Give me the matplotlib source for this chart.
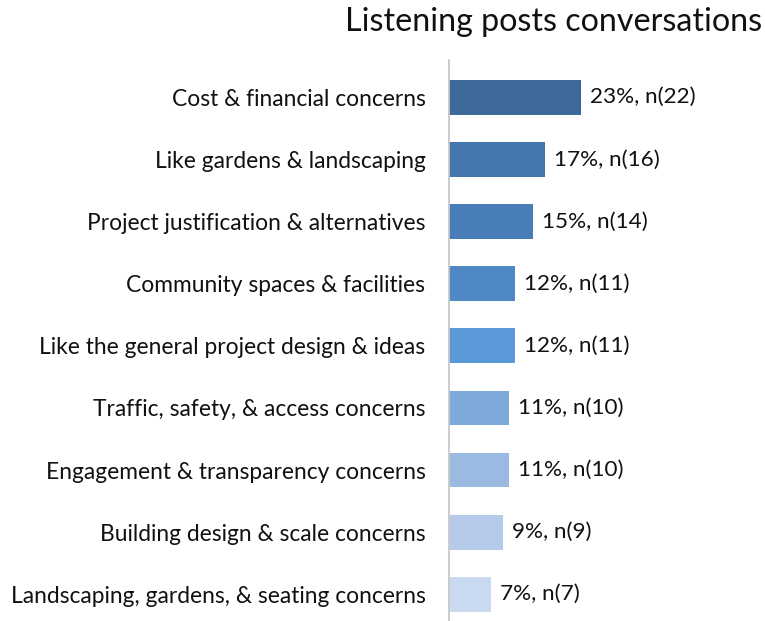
import matplotlib
matplotlib.use("Agg")
import matplotlib.pyplot as plt

# ── Data ───────────────────────────────────────────────────────────────────
categories = [
    "Cost & financial concerns",
    "Like gardens & landscaping",
    "Project justification & alternatives",
    "Community spaces & facilities",
    "Like the general project design & ideas",
    "Traffic, safety, & access concerns",
    "Engagement & transparency concerns",
    "Building design & scale concerns",
    "Landscaping, gardens, & seating concerns",
]
counts = [22, 16, 14, 11, 11, 10, 10, 9, 7]
percents = [23, 17, 15, 12, 12, 11, 11, 9, 7]

colors = ["#3d6a98", "#4477ad", "#487db7", "#4f88c4", "#5a9ad8",
          "#7eaadb", "#9bbae2", "#b5cbe9", "#c9d9ef"]

W, H = 765, 621
fig = plt.figure(figsize=(W / 100, H / 100), dpi=100)
fig.patch.set_facecolor("white")

ax = fig.add_axes([449 / W, 0, (W - 449) / W, 1 - 60 / H])
ypos = list(range(len(categories)))
ax.barh(ypos, counts, height=0.56, color=colors, zorder=2)

ax.set_xlim(0, (W - 449) / 6.0)
ax.set_ylim(8.43, -0.6)

ax.set_yticks(ypos)
ax.set_yticklabels(categories, fontsize=16.4, family="Lato", color="#111111")
ax.tick_params(axis="y", length=0, pad=17)
ax.set_xticks([])

for s in ["top", "right", "bottom"]:
    ax.spines[s].set_visible(False)
ax.spines["left"].set_color("#c8c8c8")
ax.spines["left"].set_linewidth(1.3)

for y, n, p in zip(ypos, counts, percents):
    ax.text(n + 1.5, y, f"{p}%, n({n})", ha="left", va="center",
            fontsize=16.2, family="Lato", color="#111111")

fig.text(762 / W, 1 - 22 / H, "Listening posts conversations", ha="right",
         va="center", fontsize=23.2, family="Lato", color="#111111")

fig.savefig("out.png", dpi=100, facecolor="white")
